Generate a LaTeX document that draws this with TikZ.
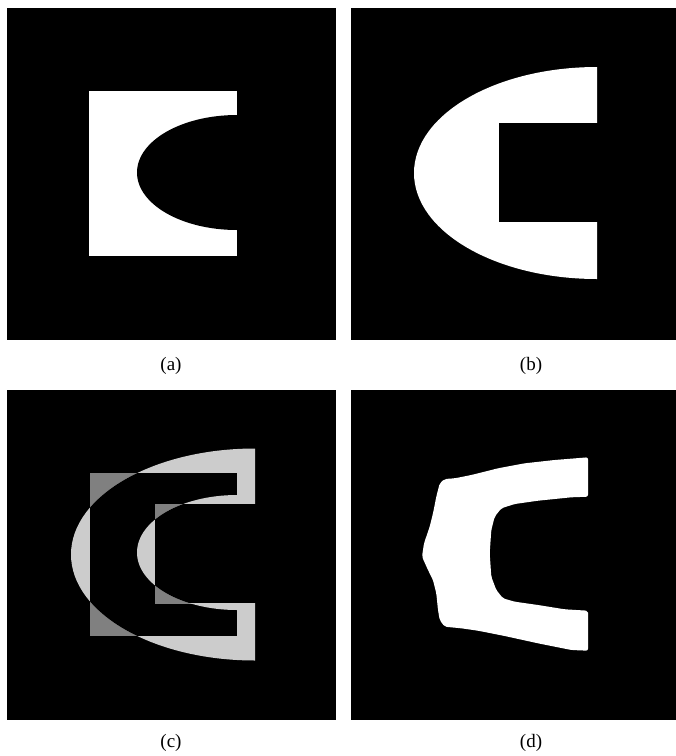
\documentclass[tikz,border=0pt]{standalone}
\usepackage{fontspec}
\setmainfont{Liberation Serif}
\definecolor{agray}{gray}{0.5}
\definecolor{bgray}{gray}{0.8}

\begin{document}
\begin{tikzpicture}[x=1pt, y=-1pt,
  panel/.style={fill=black},
  sub/.style={font=\fontsize{19}{23}\selectfont, inner sep=0pt}]
\useasboundingbox (0,0) rectangle (676,756);
\fill[white] (0,0) rectangle (676,756);
% ---- (a) rectangle with elliptic notch
\fill[panel] (7,8) rectangle (336,339.5);
\fill[white] (89,91) rectangle (237,256);
\begin{scope}
  \clip (7,8) rectangle (300,339.5);
  \fill[black] (237,172.5) ellipse [x radius=100pt, y radius=57.5pt];
\end{scope}
\node[sub] (la) at (171,366) {(a)};
% ---- (b) half ellipse with rectangular notch
\fill[panel] (351,8) rectangle (676,339.5);
\begin{scope}
  \clip (351,8) rectangle (597,339.5);
  \fill[white] (597,173) ellipse [x radius=183pt, y radius=106pt];
\end{scope}
\fill[black] (499,123) rectangle (602,222);
\node[sub] (lb) at (531,366) {(b)};
% ---- (c) overlay of (a) and (b)
\fill[panel] (7,389.5) rectangle (336,720);
\fill[agray] (90,473) rectangle (237,636);
\begin{scope}
  \clip (7,389.5) rectangle (255,720);
  \fill[bgray] (255,554.5) ellipse [x radius=184pt, y radius=106pt];
  \clip (255,554.5) ellipse [x radius=184pt, y radius=106pt];
  \fill[black] (90,473) rectangle (237,636);
\end{scope}
\fill[black] (155,504) rectangle (260,603);
\begin{scope}
  \clip (155,504) rectangle (255,603);
  \fill[agray] (90,473) rectangle (237,636);
\end{scope}
\begin{scope}
  \clip (90,473) rectangle (237,636);
  \fill[bgray] (237,552.5) ellipse [x radius=100pt, y radius=57.5pt];
\end{scope}
\begin{scope}
  \clip (237,552.5) ellipse [x radius=100pt, y radius=57.5pt];
  \fill[black] (155,504) rectangle (260,603);
\end{scope}
\node[sub] (lc) at (171,743) {(c)};
% ---- (d) result shape
\fill[panel] (351,389.5) rectangle (676,720);
\fill[white, rounded corners=2pt] (588,457.3) -- (588,496.7) -- (571.3,497.3) -- (538,500.7)
  -- (514.7,504) -- (501.3,508.3) -- (494.7,516.7) -- (491.3,530) -- (489.7,553.3)
  -- (491.3,576.7) -- (496.3,590) -- (503,598.3) -- (514.7,601.7) -- (538,605)
  -- (564.7,609.3) -- (588,610.7) -- (588,650.7) -- (571.3,650) -- (538,643.3)
  -- (504.7,636) -- (478,630.7) -- (461.3,628.3) -- (444.7,626.7) -- (439.7,620)
  -- (438,610) -- (436.3,593.3) -- (433,580) -- (428,570) -- (422,556.7)
  -- (424,543.3) -- (429.7,526.7) -- (433,513.3) -- (436.3,496.7) -- (439.7,483.3)
  -- (444.7,479) -- (454.7,478.3) -- (471.3,475) -- (498,468.3) -- (524.7,463.3)
  -- (554.7,460) -- cycle;
\node[sub] (ld) at (531,743) {(d)};
\end{tikzpicture}
\end{document}
